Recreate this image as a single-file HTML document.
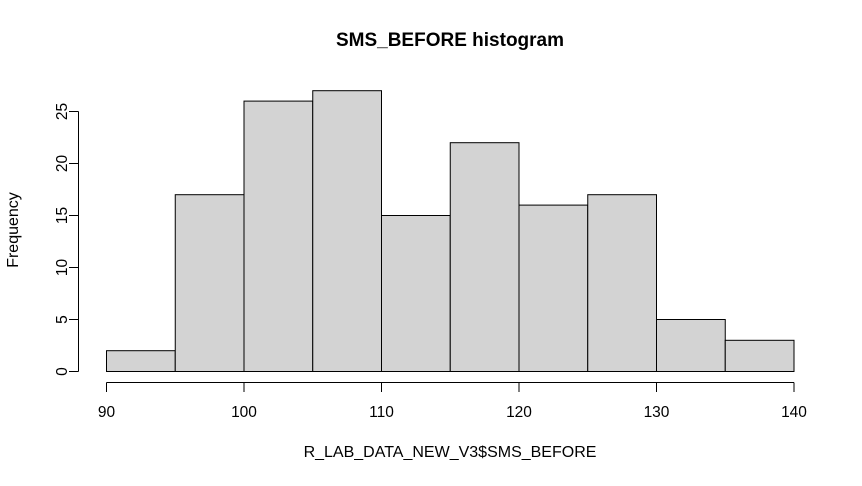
<!DOCTYPE html>
<html><head><style>
body{margin:0;background:#fff;}
svg text{font-family:"Liberation Sans",sans-serif;fill:#000;}
</style></head><body>
<svg width="862" height="481" xmlns="http://www.w3.org/2000/svg">
<text x="450" y="46" text-anchor="middle" font-size="19" font-weight="bold">SMS_BEFORE histogram</text>
<text x="450" y="457" text-anchor="middle" font-size="16">R_LAB_DATA_NEW_V3$SMS_BEFORE</text>
<text transform="translate(18,230) rotate(-90)" text-anchor="middle" font-size="16">Frequency</text>
<g id="bars"></g>
<g id="axes"></g>
</svg>
<script>
const breaks = [90,95,100,105,110,115,120,125,130,135,140];
const counts = [2,17,26,27,15,22,16,17,5,3];
const xTicks = [90,100,110,120,130,140];
const yTicks = [0,5,10,15,20,25];
const ns="http://www.w3.org/2000/svg";
const X=v=>106.5+(v-90)*13.75;
const Y=v=>371.5-v*10.4;
function mk(t,a,p){const e=document.createElementNS(ns,t);for(const k in a)e.setAttribute(k,a[k]);p.appendChild(e);return e;}
const bars=document.getElementById('bars'), axes=document.getElementById('axes');
counts.forEach((c,i)=>{
  const r=mk('rect',{x:X(breaks[i]),y:Y(c),width:X(breaks[i+1])-X(breaks[i]),height:Y(0)-Y(c),fill:'#d3d3d3',stroke:'#000','stroke-width':1},bars);
  
  
});
const xa=mk('line',{x1:X(xTicks[0]),x2:X(xTicks[xTicks.length-1]),y1:382.5,y2:382.5,stroke:'#000'},axes);


xTicks.forEach(v=>{
  mk('line',{x1:X(v),x2:X(v),y1:382.5,y2:392,stroke:'#000'},axes);
  const t=mk('text',{x:X(v),y:417,'text-anchor':'middle','font-size':15.5},axes);t.textContent=v;
  
  
});
const ya=mk('line',{x1:78.5,x2:78.5,y1:Y(0),y2:Y(25),stroke:'#000'},axes);


yTicks.forEach(v=>{
  mk('line',{x1:69,x2:78.5,y1:Y(v),y2:Y(v),stroke:'#000'},axes);
  const t=mk('text',{transform:`translate(67,${Y(v)}) rotate(-90)`,'text-anchor':'middle','font-size':15.5},axes);t.textContent=v;
  
  
});
</script>
</body></html>
